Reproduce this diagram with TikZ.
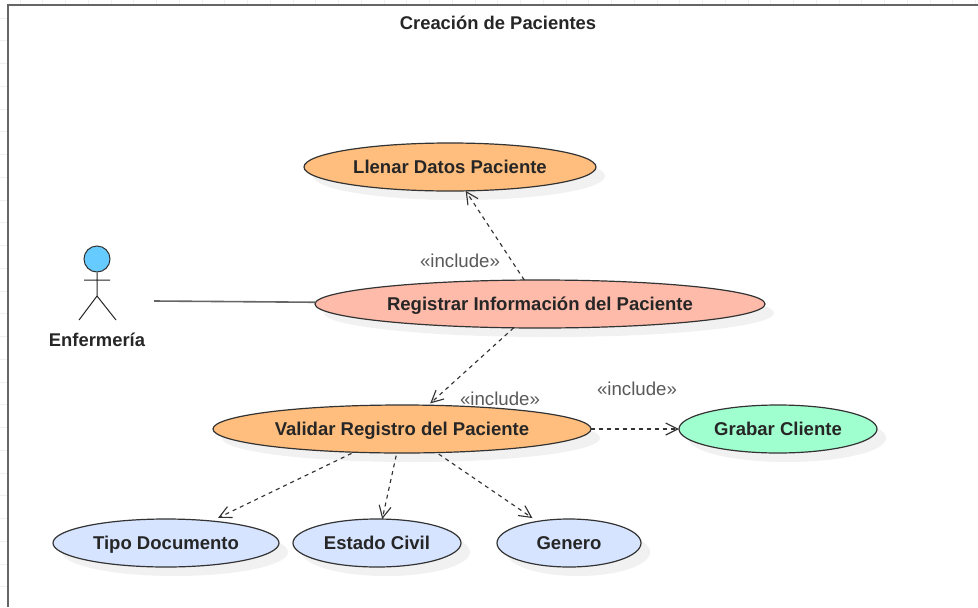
\documentclass[tikz,border=0pt]{standalone}
\usepackage{fontspec}
\setmainfont{Liberation Sans}
\usetikzlibrary{shapes.geometric,arrows.meta}
\definecolor{orangeuc}{HTML}{FFBE7D}
\definecolor{reduc}{HTML}{FFBBAA}
\definecolor{greenuc}{HTML}{A0FFCE}
\definecolor{blueuc}{HTML}{D6E4FF}
\definecolor{headuc}{HTML}{66CCFF}
\definecolor{shadowuc}{HTML}{F1F1F1}
\definecolor{edgeuc}{HTML}{333333}
\tikzset{
  x=0.75pt,y=-0.75pt,
  usecase/.style={ellipse,draw=edgeuc,line width=0.9pt,inner sep=0pt,outer sep=0pt,
    minimum height=36pt,font=\fontsize{13.9pt}{16pt}\selectfont\bfseries,text=black!85,
    text height=12pt,text depth=3pt},
  shadowell/.style={fill=shadowuc,draw=none},
  incl/.style={dash pattern=on 3pt off 3pt,draw=edgeuc,line width=0.85pt,
    -{Straight Barb[length=9pt,width=9pt,line width=0.85pt]}},
  tag/.style={font=\fontsize{14pt}{16pt}\selectfont,text=black!65,inner sep=0pt},
  caption/.style={font=\fontsize{13.8pt}{16pt}\selectfont\bfseries,text=black!85,inner sep=0pt},
  actorline/.style={draw=black!85,line width=0.75pt},
  gridtick/.style={draw=black!6,line width=0.6pt},
}
\begin{document}
\begin{tikzpicture}
\useasboundingbox (0,0) rectangle (978,607);
\fill[white] (0,0) rectangle (978,607);
% faint page grid, visible only in the margins
\foreach \gx in {0,...,42} {\draw[gridtick] ({20+22.75*\gx},0) -- ({20+22.75*\gx},4);}
\foreach \gy in {0,...,25} {\draw[gridtick] (0,{18+22.75*\gy}) -- (7,{18+22.75*\gy});}
% frame
\draw[black!60,line width=1.5pt] (978,5) -- (8,5) -- (8,607);
\node[caption] (title) at (498,23) {Creación de Pacientes};
% shadows
\fill[shadowell] (459,176) ellipse (146 and 24);
\fill[shadowell] (549,313) ellipse (225 and 24);
\fill[shadowell] (411,438) ellipse (189 and 24);
\fill[shadowell] (787,438) ellipse (99 and 24);
\fill[shadowell] (175,552) ellipse (113 and 24);
\fill[shadowell] (386,552) ellipse (84 and 24);
\fill[shadowell] (578,552) ellipse (72 and 24);
% use cases
\node[usecase,fill=orangeuc,minimum width=219pt] (llenar) at (450,167) {Llenar Datos Paciente};
\node[usecase,fill=reduc,minimum width=337.5pt] (registrar) at (540,304) {Registrar Información del Paciente};
\node[usecase,fill=orangeuc,minimum width=283.5pt] (validar) at (402,429) {Validar Registro del Paciente};
\node[usecase,fill=greenuc,minimum width=148.5pt] (grabar) at (778,429) {Grabar Cliente};
\node[usecase,fill=blueuc,minimum width=169.5pt] (tipo) at (166,543) {Tipo Documento};
\node[usecase,fill=blueuc,minimum width=126pt] (estado) at (377,543) {Estado Civil};
\node[usecase,fill=blueuc,minimum width=108pt] (genero) at (569,543) {Genero};
% actor
\node[circle,draw=edgeuc,fill=headuc,line width=0.75pt,minimum size=19.5pt,inner sep=0pt] (head) at (97,259) {};
\coordinate (hip) at (97,296);
\coordinate (armL) at (84,280);
\coordinate (armR) at (110,280);
\coordinate (legL) at (79,320);
\coordinate (legR) at (116,320);
\draw[actorline] (head) -- (hip) (armL) -- (armR) (legL) -- (hip) -- (legR);
\node[caption] (actor) at (97,340) {Enfermería};
\coordinate (actorend) at (154,301);
\draw[black!60,line width=1.2pt] (actorend) -- (registrar);
% connectors
\draw[incl] (registrar) -- (llenar);
\draw[incl,shorten >=2pt] (registrar) -- (validar);
\draw[incl,shorten <=2pt,shorten >=5.5pt] (validar) -- (tipo);
\draw[incl,shorten <=2pt] (validar) -- (estado);
\draw[incl,shorten <=2pt,shorten >=4.5pt] (validar) -- (genero);
\draw[incl] (validar) -- (grabar);
% labels
\node[tag] (t1) at (460,261) {«include»};
\node[tag] (t2) at (500,399) {«include»};
\node[tag] (t3) at (637,389) {«include»};
\end{tikzpicture}
\end{document}
